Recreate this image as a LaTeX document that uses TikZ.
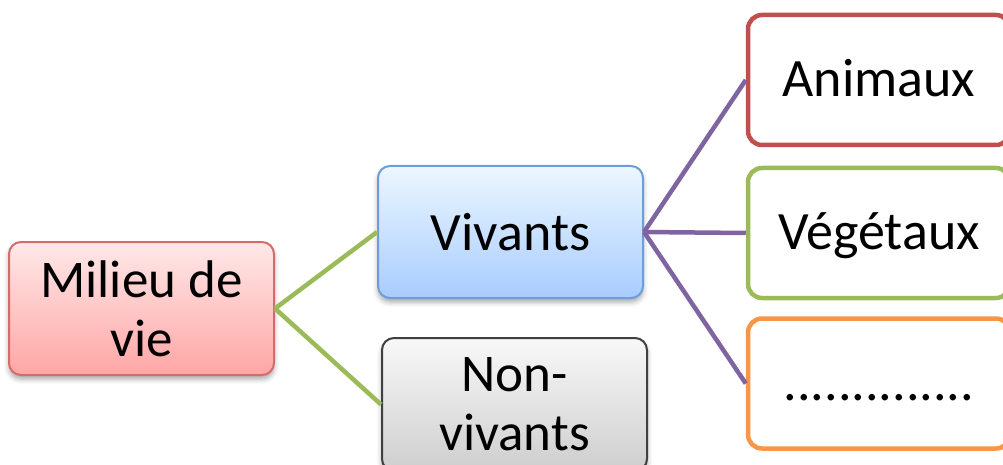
\documentclass[tikz,border=0pt]{standalone}
\usepackage{fontspec}
\setmainfont{Carlito}
\usetikzlibrary{shadows.blur}
\definecolor{mred}{RGB}{192,80,77}
\definecolor{mgreen}{RGB}{155,187,89}
\definecolor{morange}{RGB}{247,150,70}
\definecolor{mpurple}{RGB}{128,100,162}
\definecolor{pinktop}{RGB}{255,232,232}
\definecolor{pinkbot}{RGB}{255,166,166}
\definecolor{pinkbd}{RGB}{214,108,106}
\definecolor{bluetop}{RGB}{236,247,255}
\definecolor{bluebot}{RGB}{168,204,255}
\definecolor{bluebd}{RGB}{110,157,216}
\definecolor{graytop}{RGB}{248,248,248}
\definecolor{graybot}{RGB}{206,206,206}
\definecolor{graybd}{RGB}{64,64,64}
\tikzset{
  leftbox/.style={rectangle, rounded corners=12pt, minimum width=265pt, line width=2pt,
    align=center, font=\fontsize{53}{59}\selectfont,
    blur shadow={shadow xshift=0pt, shadow yshift=-4pt, shadow blur radius=5pt, shadow opacity=35}},
  rightbox/.style={rectangle, rounded corners=14pt, minimum width=262pt, minimum height=130pt,
    line width=4.5pt, fill=white, align=center, font=\fontsize{54}{66}\selectfont,
    text height=33pt, text depth=0pt},
  gline/.style={mgreen, line width=4.5pt},
  pline/.style={mpurple, line width=4.5pt}
}
\begin{document}
\begin{tikzpicture}[x=1pt,y=-1pt]
\useasboundingbox (0,0) rectangle (1003,465);
\clip (0,0) rectangle (1003,465);
\node[leftbox, minimum height=133pt, draw=pinkbd, top color=pinktop, bottom color=pinkbot] (milieu) at (141.5,308.5) {Milieu de\\vie};
\node[leftbox, minimum height=132pt, draw=bluebd, top color=bluetop, bottom color=bluebot, font=\fontsize{54}{66}\selectfont] (viv) at (510.5,232) {Vivants};
\node[leftbox, minimum height=133pt, draw=graybd, top color=graytop, bottom color=graybot] (nonviv) at (514.5,404.5) {Non-\\vivants};
\node[rightbox, draw=mred] (anim) at (879,80) {Animaux};
\node[rightbox, draw=mgreen] (veg) at (879,233) {Végétaux};
\node[rightbox, draw=morange] (dots) at (879,383.5) {..............};
\draw[gline] (milieu.east) -- (viv.west);
\draw[gline] (milieu.east) -- (nonviv.west);
\draw[pline] (viv.east) -- (anim.west);
\draw[pline] (viv.east) -- (veg.west);
\draw[pline] (viv.east) -- (dots.west);
\end{tikzpicture}
\end{document}
